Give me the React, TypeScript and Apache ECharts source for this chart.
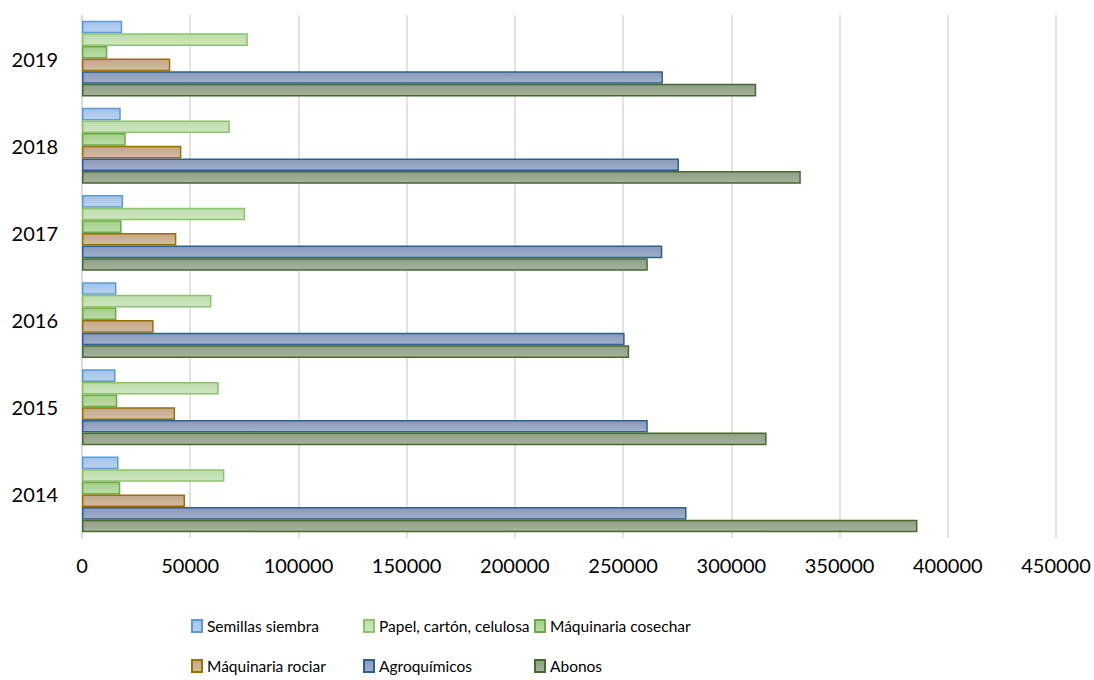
import React, { useEffect, useRef } from "react";
import * as echarts from "echarts";

const years = ["2014", "2015", "2016", "2017", "2018", "2019"];
const seriesNames = [
  "Semillas siembra",
  "Papel, cartón, celulosa",
  "Máquinaria cosechar",
  "Máquinaria rociar",
  "Agroquímicos",
  "Abonos",
];
const semillas = [16900, 15500, 15900, 19000, 17900, 18600];
const papel = [65800, 63200, 59800, 75400, 68300, 76600];
const cosechar = [17700, 16300, 15900, 18300, 20200, 11700];
const rociar = [47600, 43000, 33100, 43600, 45900, 40800];
const agroquimicos = [279300, 261400, 250700, 268100, 275800, 268400];
const abonos = [386000, 316300, 252800, 261400, 332100, 311500];
const xTicks = { min: 0, max: 450000, step: 50000 };

const seriesData = [semillas, papel, cosechar, rociar, agroquimicos, abonos];
const fills: [string, string][] = [
  ["#a3c1ea", "#bcd3f0"],
  ["#bcdcab", "#cfe6c2"],
  ["#a3cf8a", "#bddcab"],
  ["#c3a688", "#d4bda4"],
  ["#8899bb", "#a2b0cb"],
  ["#8fa085", "#a5b29c"],
];
const borders = ["#5b9bd5", "#8cc26a", "#6aab45", "#9a7000", "#2c5f92", "#466a2e"];

// legend slot positions (column left, row top) for each series
const legendCols = [191, 363, 534, 191, 363, 534];
const legendRows = [618, 618, 618, 658, 658, 658];

export default function App() {
  const ref = useRef<HTMLDivElement>(null);
  useEffect(() => {
    if (!ref.current) return;
    const chart = echarts.init(ref.current, undefined, { renderer: "svg" });
    const font = "Lato, 'Open Sans', sans-serif";
    chart.setOption({
      animation: false,
      backgroundColor: "#fff",
      grid: { left: 82, right: 38, top: 15, bottom: 142, containLabel: false },
      legend: seriesNames.map((name, i) => ({
        left: legendCols[i],
        top: legendRows[i],
        padding: 0,
        icon: "rect",
        itemWidth: 10,
        itemHeight: 12,
        itemGap: 4,
        textStyle: { fontFamily: font, fontSize: 15.5, color: "#000" },
        data: [name],
        selectedMode: false,
      })),
      xAxis: {
        type: "value",
        min: xTicks.min,
        max: xTicks.max,
        interval: xTicks.step,
        axisLine: { show: false },
        axisTick: { show: false },
        axisLabel: {
          fontFamily: font,
          fontSize: 20,
          color: "#000",
          margin: 17,
          formatter: (v: number) => String(v),
        },
        splitLine: { lineStyle: { color: "#d9d9d9", width: 1.5 } },
      },
      yAxis: {
        type: "category",
        data: years,
        axisLine: { show: true, lineStyle: { color: "#d9d9d9", width: 1.5 } },
        axisTick: { show: false },
        axisLabel: { fontFamily: font, fontSize: 20, color: "#000", margin: 24 },
        splitLine: { show: false },
      },
      series: seriesNames.map((name, i) => ({
        name,
        type: "bar",
        data: seriesData[i],
        barGap: "0%",
        barCategoryGap: "13%",
        itemStyle: {
          color: new echarts.graphic.LinearGradient(0, 0, 0, 1, [
            { offset: 0, color: fills[i][0] },
            { offset: 1, color: fills[i][1] },
          ]),
          borderColor: borders[i],
          borderWidth: 1.5,
        },
      })),
    });
    return () => chart.dispose();
  }, []);
  return (
    <div
      ref={ref}
      style={{ position: "fixed", left: 0, top: 0, width: 1094, height: 680 }}
    />
  );
}
